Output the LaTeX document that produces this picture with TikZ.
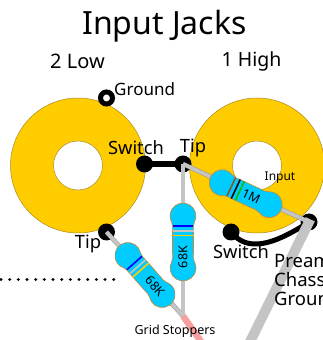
\documentclass[tikz,border=0pt]{standalone}
\usepackage{fontspec}
\setmainfont{Noto Sans}
\definecolor{ringc}{HTML}{FFCC00}
\definecolor{ringl}{HTML}{A88A20}
\definecolor{bodyc}{HTML}{00CCFF}
\definecolor{bodyl}{HTML}{CC8833}
\definecolor{wirec}{HTML}{C4C4C4}
\definecolor{wirel}{HTML}{808080}
\definecolor{pinkc}{HTML}{F8A0A0}
\tikzset{
  ringshape/.style={fill=ringc,draw=ringl,line width=0.5pt},
  holeshape/.style={fill=white,draw=ringl,line width=0.5pt},
  term/.style={circle,fill=black,minimum size=17pt,inner sep=0pt,outer sep=0pt},
  termhole/.style={circle,draw=black,line width=5pt,fill=white,minimum size=12pt,inner sep=0pt},
  lbl/.style={inner sep=0pt,font=\fontsize{18.3}{20}\selectfont},
  graywire/.style={line width=3.8pt,draw=wirec},
  grayedge/.style={line width=4.4pt,draw=wirel},
  bodytext/.style={inner sep=0pt,font=\fontsize{12.5}{13}\selectfont},
}
\newcommand{\resbody}[9]{%
  \begin{scope}[shift={(#1,#2)},rotate=#3]
    \draw[fill=bodyc,draw=bodyl,line width=0.6pt]
      (10,-10.5) .. controls (14,-10.5) and (16.9,-9.76) .. (19.5,-11.26)
      arc[start angle=-120,end angle=120,radius=13]
      .. controls (16.9,9.76) and (14,10.5) .. (10,10.5)
      -- (-10,10.5) .. controls (-14,10.5) and (-16.9,9.76) .. (-19.5,11.26)
      arc[start angle=60,end angle=300,radius=13]
      .. controls (-16.9,-9.76) and (-14,-10.5) .. (-10,-10.5) -- cycle;
    \draw[line width=1.6pt,draw=#4] (-16,-10) -- (-16,10);
    \draw[line width=1.6pt,draw=#5] (-11,-10.5) -- (-11,10.5);
    \draw[line width=1.6pt,draw=#6] (-6.5,-10.5) -- (-6.5,10.5);
    \node[bodytext,rotate=#9] at (#7,0) {#8};
  \end{scope}}
\begin{document}
\begin{tikzpicture}[x=1pt,y=1pt]
\useasboundingbox (0,0) rectangle (323,340);
\begin{scope}
\clip (0,0) rectangle (323,340);
% rings
\node[circle,ringshape,minimum size=135pt,inner sep=0pt] (lring) at (78,174.5) {};
\node[circle,holeshape,minimum size=49pt,inner sep=0pt] (lhole) at (78,174.5) {};
\node[circle,ringshape,minimum size=135pt,inner sep=0pt] (rring) at (257,174.5) {};
\node[circle,holeshape,minimum size=49pt,inner sep=0pt] (rhole) at (257,174.5) {};
% terminals
\node[termhole] (gnd) at (106.5,242) {};
\node[term] (sw) at (144.5,176) {};
\node[term] (tip) at (183,176) {};
\node[term] (ltip) at (106.5,108) {};
\node[term] (rsw) at (231,108) {};
\node[term] (rgnd) at (309,118) {};
\coordinate (junc) at (183,24);
\coordinate (pinkend) at (207,-10);
\coordinate (chassisend) at (245,-12);
% black wires
\draw[line width=6pt] (sw.center) -- (tip.center);
\draw[line width=5pt] (rsw.center) .. controls (247,88) and (272,94) .. (rgnd.center);
% gray wires
\draw[grayedge] (tip.center) -- (junc);
\draw[grayedge] (ltip.center) -- (junc);
\draw[grayedge] (tip.center) -- (rgnd.center);
\draw[graywire] (tip.center) -- (junc);
\draw[graywire] (ltip.center) -- (junc);
\draw[graywire] (tip.center) -- (rgnd.center);
\draw[line width=10pt,draw=wirec,shorten <=-3pt] (rgnd.center) -- (chassisend);
\draw[line width=6.5pt,draw=pinkc] (junc) -- (pinkend);
% resistors
\resbody{183}{98}{-90}{blue}{wirec}{ringc}{15}{68K}{90}
\resbody{145}{65}{-48.6}{blue}{wirec}{ringc}{15}{68K}{-48.6}
\resbody{245.7}{146.3}{-25}{brown!70!black}{black}{green!75!black}{6}{1M}{-25}
% dots
\coordinate (dotsL) at (1,60.3);
\coordinate (dotsR) at (115,60.3);
\draw[line width=3.3pt,line cap=round,dash pattern=on 0.01pt off 8.66pt] (dotsL) -- (dotsR);
% text
\node[inner sep=0pt,font=\fontsize{32}{34}\selectfont] (title) at (164.5,313.5) {Input Jacks};
\node[lbl,font=\fontsize{20}{22}\selectfont] (low) at (77.5,279) {2 Low};
\node[lbl,font=\fontsize{19.5}{22}\selectfont] (high) at (251.5,279) {1 High};
\node[lbl,anchor=west,font=\fontsize{17}{19}\selectfont] (tg) at (114,250.5) {Ground};
\node[lbl] (ts) at (136,192.5) {Switch};
\node[lbl] (tt) at (193,192.5) {Tip};
\node[lbl] (tl) at (88,96) {Tip};
\node[lbl] (tsw) at (241,88) {Switch};
\node[inner sep=0pt,font=\fontsize{12}{13}\selectfont] (tin) at (280,162) {Input};
\node[inner sep=0pt,font=\fontsize{12.5}{13}\selectfont] (tgs) at (175,8.5) {Grid Stoppers};
\node[inner sep=0pt,anchor=north west,align=left,font=\fontsize{18.5}{19}\selectfont] (tp) at (274,86) {Preamp\\Chassis\\Ground};
\end{scope}
\end{tikzpicture}
\end{document}
